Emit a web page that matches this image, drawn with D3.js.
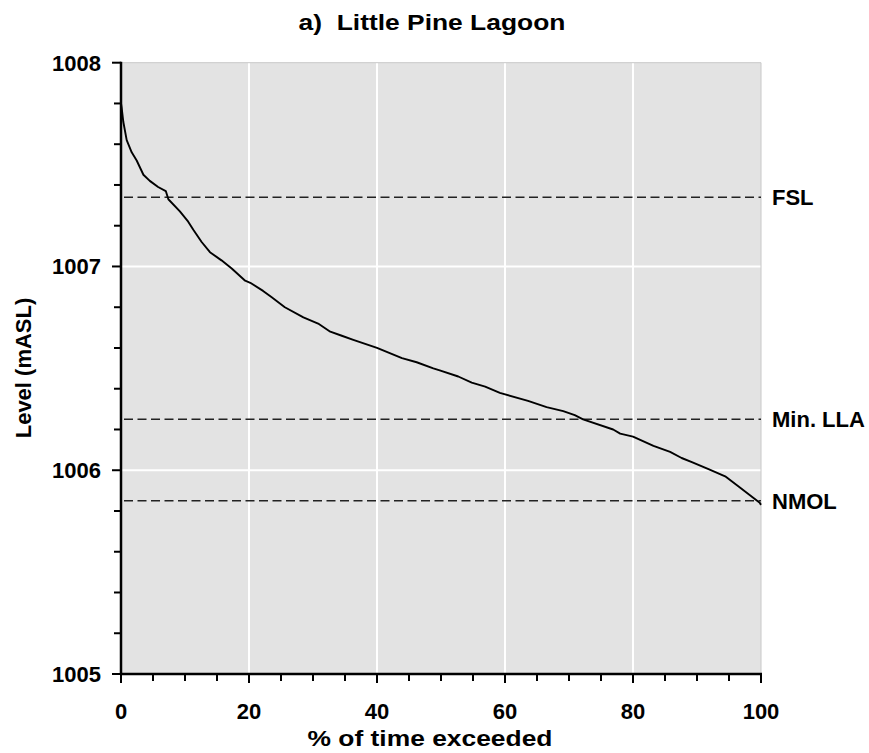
<!DOCTYPE html>
<html><head><meta charset="utf-8">
<script src="https://cdn.jsdelivr.net/npm/d3@7"></script>
<style>body{margin:0;background:#fff}svg{display:block}text{font-family:Arial,"Liberation Sans",sans-serif;font-weight:bold;fill:#000;white-space:pre}</style>
</head><body>
<script>
const title = "a)  Little Pine Lagoon";
const xLabel = "% of time exceeded";
const yLabel = "Level (mASL)";
const xTicks = [0,20,40,60,80,100];
const yTicks = [1005,1006,1007,1008];
const pctExceeded = [0,0.1,0.36,0.89,1.67,2.45,3.5,4.5,5.8,7.0,7.4,9.2,10.5,11.3,12.6,13.9,15.7,17.3,19.4,20.2,22.2,23.5,25.6,28.5,30.8,32.7,34.5,36.3,40.0,43.9,46.2,48.8,49.8,52.7,54.8,56.9,59.2,63.6,66.5,69.1,70.9,72.2,76.9,78.0,80.0,83.2,85.8,87.6,89.2,91.8,94.4,96.5,99.8,100];
const level = [1007.80,1007.78,1007.71,1007.62,1007.56,1007.52,1007.45,1007.42,1007.39,1007.37,1007.33,1007.27,1007.22,1007.18,1007.12,1007.07,1007.03,1006.99,1006.93,1006.92,1006.88,1006.85,1006.80,1006.75,1006.72,1006.68,1006.66,1006.64,1006.60,1006.55,1006.53,1006.50,1006.49,1006.46,1006.43,1006.41,1006.38,1006.34,1006.31,1006.29,1006.27,1006.25,1006.20,1006.18,1006.165,1006.12,1006.09,1006.06,1006.04,1006.005,1005.97,1005.92,1005.84,1005.83];
const refNames = ["FSL","Min. LLA","NMOL"];
const refLevels = [1007.34,1006.25,1005.85];

const W=869,H=753, L=121,R=761,T=62.7,B=674;
const FS="22px";
const svg=d3.select("body").append("svg").attr("width",W).attr("height",H);
const x=d3.scaleLinear().domain([0,100]).range([L,R]);
const y=d3.scaleLinear().domain([1005,1008]).range([B,T]);

svg.append("rect").attr("x",L).attr("y",T).attr("width",R-L).attr("height",B-T).attr("fill","#e3e3e3");
svg.append("g").selectAll("line").data(xTicks.filter(d=>d>0&&d<100)).join("line")
 .attr("x1",d=>x(d)).attr("x2",d=>x(d)).attr("y1",T).attr("y2",B).attr("stroke","#fff").attr("stroke-width",2);
svg.append("g").selectAll("line").data(yTicks.filter(d=>d>1005&&d<1008)).join("line")
 .attr("x1",L).attr("x2",R).attr("y1",d=>y(d)).attr("y2",d=>y(d)).attr("stroke","#fff").attr("stroke-width",2);
svg.append("path").attr("d",`M${L},${T}H${R}V${B}`).attr("fill","none").attr("stroke","#c8c8c8").attr("stroke-width",1);

svg.append("g").selectAll("line").data(refLevels).join("line")
 .attr("x1",L+3).attr("x2",R).attr("y1",d=>y(d)).attr("y2",d=>y(d))
 .attr("stroke","#222").attr("stroke-width",1.6).attr("stroke-dasharray","9,4.5");
svg.append("g").selectAll("text").data(refNames).join("text")
 .attr("x",772).attr("y",(d,i)=>y(refLevels[i])).attr("dy","0.36em")
 .style("font-size",FS).text(d=>d);

const pts=pctExceeded.map((d,i)=>[d,level[i]]);
svg.append("path").datum(pts).attr("fill","none").attr("stroke","#000").attr("stroke-width",1.9)
 .attr("stroke-linejoin","round")
 .attr("d",d3.line().x(d=>x(d[0])).y(d=>y(d[1])));

const xMinor=d3.range(0,101,5), yMinor=d3.range(0,16).map(i=>1005+i*0.2);
svg.append("g").selectAll("line").data(xMinor).join("line")
 .attr("x1",d=>x(d)).attr("x2",d=>x(d)).attr("y1",B).attr("y2",d=>d%20===0?B+9:B+7).attr("stroke","#000").attr("stroke-width",2);
svg.append("g").selectAll("line").data(yMinor).join("line")
 .attr("x1",(d,i)=>i%5===0?L-9:L-7).attr("x2",L).attr("y1",d=>y(d)).attr("y2",d=>y(d)).attr("stroke","#000").attr("stroke-width",2);
svg.append("line").attr("x1",L).attr("x2",L).attr("y1",T-1).attr("y2",B+1).attr("stroke","#000").attr("stroke-width",2.5);
svg.append("line").attr("x1",L-1).attr("x2",R+1).attr("y1",B).attr("y2",B).attr("stroke","#000").attr("stroke-width",2.5);

svg.append("g").selectAll("text").data(xTicks).join("text")
 .attr("x",d=>x(d)).attr("y",719).attr("text-anchor","middle").style("font-size",FS).text(d=>d);
svg.append("g").selectAll("text").data(yTicks).join("text")
 .attr("x",101).attr("y",d=>y(d)).attr("dy","0.36em").attr("text-anchor","end").style("font-size",FS).text(d=>d);

svg.append("text").attr("transform","translate(432,30) scale(1.2,1)").attr("text-anchor","middle").style("font-size",FS).text(title);
svg.append("text").attr("transform","translate(430,746) scale(1.2,1)").attr("text-anchor","middle").style("font-size",FS).text(xLabel);
svg.append("text").attr("transform","translate(31,368) rotate(-90)").attr("text-anchor","middle").style("font-size",FS).text(yLabel);
</script>
</body></html>
